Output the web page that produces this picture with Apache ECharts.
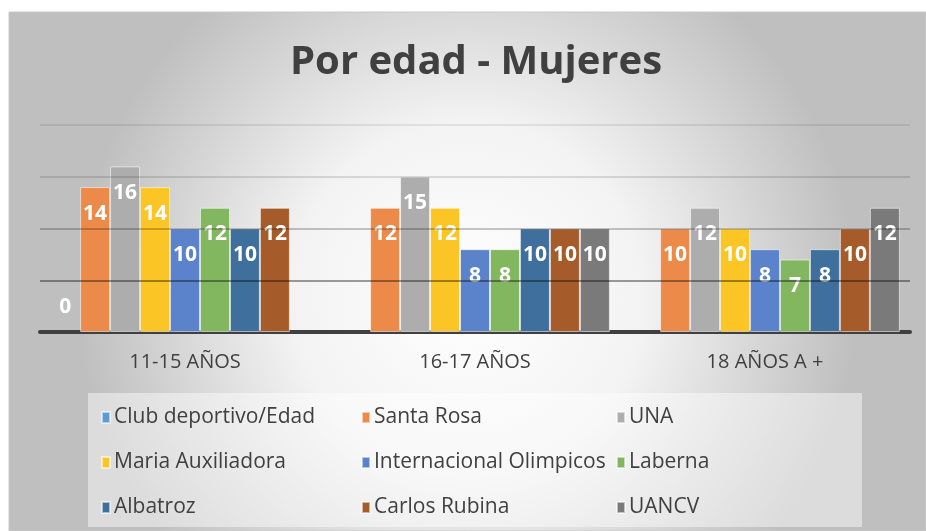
<!DOCTYPE html>
<html>
<head>
<meta charset="utf-8">
<script src="https://cdn.jsdelivr.net/npm/echarts@6/dist/echarts.min.js"></script>
<style>
  html, body { margin: 0; padding: 0; background: #fff; }
  #main { width: 926px; height: 531px; }
</style>
</head>
<body>
<div id="main"></div>
<script>
var categories = ['11-15 AÑOS', '16-17 AÑOS', '18 AÑOS A +'];
var seriesNames = ['Club deportivo/Edad', 'Santa Rosa', 'UNA', 'Maria Auxiliadora',
  'Internacional Olimpicos', 'Laberna', 'Albatroz', 'Carlos Rubina', 'UANCV'];
var clubValues = [0, null, null];
var santaRosaValues = [14, 12, 10];
var unaValues = [16, 15, 12];
var mariaValues = [14, 12, 10];
var internacionalValues = [10, 8, 8];
var labernaValues = [12, 8, 7];
var albatrozValues = [10, 10, 8];
var carlosValues = [12, 10, 10];
var uancvValues = [null, 10, 12];
var gridLevels = [5, 10, 15, 20];

var allValues = [clubValues, santaRosaValues, unaValues, mariaValues, internacionalValues,
  labernaValues, albatrozValues, carlosValues, uancvValues];
var colors = ['#5B9BD5', '#EC8A4A', '#ADADAD', '#FCC526', '#5B83CC', '#82B65F', '#3F6F9C', '#A65B2A', '#7A7A7A'];
var lineColors = ['rgba(0,0,0,0.38)', 'rgba(0,0,0,0.22)', 'rgba(0,0,0,0.12)', 'rgba(0,0,0,0.08)'];
var font = "'Open Sans', sans-serif";
var textColor = '#404040';

var chart = echarts.init(document.getElementById('main'));

var series = seriesNames.map(function (name, i) {
  var s = {
    name: name,
    type: 'bar',
    barGap: '0%',
    barCategoryGap: '7%',
    itemStyle: {
      color: colors[i],
      borderColor: 'rgba(255,255,255,0.55)',
      borderWidth: 1
    },
    label: {
      show: true,
      position: 'insideTop',
      distance: 16,
      color: '#fff',
      fontSize: 21,
      fontWeight: 'bold',
      fontFamily: font
    },
    data: allValues[i].map(function (v) {
      if (v === 0) {
        return { value: v, itemStyle: { borderWidth: 0 }, label: { position: 'top', distance: 14 } };
      }
      return v;
    })
  };
  if (i === seriesNames.length - 1) {
    // lineas de la cuadricula por encima de las barras
    s.markLine = {
      silent: true,
      symbol: 'none',
      label: { show: false },
      z: 10,
      data: gridLevels.map(function (lv, k) {
        return { yAxis: lv, lineStyle: { color: lineColors[k], width: 2, type: 'solid' } };
      })
    };
  }
  return s;
});

var option = {
  backgroundColor: '#fff',
  animation: false,
  graphic: [{
    type: 'rect',
    z: -10,
    shape: { x: 9, y: 12, width: 917, height: 519 },
    style: {
      fill: {
        type: 'radial', x: 0.5, y: 0.55, r: 0.75,
        colorStops: [
          { offset: 0, color: '#ffffff' },
          { offset: 0.45, color: '#f3f3f3' },
          { offset: 1, color: '#bfbfbf' }
        ]
      },
      stroke: '#c8c8c8',
      lineWidth: 1
    }
  }, {
    type: 'rect',
    z: -5,
    shape: { x: 88, y: 393, width: 774, height: 134 },
    style: { fill: 'rgba(255,255,255,0.45)' }
  }],
  title: {
    text: 'Por edad - Mujeres',
    left: 285,
    top: 38,
    textStyle: {
      fontSize: 40,
      fontWeight: 'bold',
      color: textColor,
      fontFamily: font
    }
  },
  grid: {
    left: 40,
    right: 16,
    top: 125,
    bottom: 199
  },
  xAxis: {
    type: 'category',
    data: categories,
    axisTick: { show: false },
    axisLine: { lineStyle: { color: '#404040', width: 4 } },
    axisLabel: {
      margin: 20,
      fontSize: 20,
      color: textColor,
      fontFamily: font
    }
  },
  yAxis: {
    type: 'value',
    min: 0,
    max: 20,
    interval: 5,
    axisLabel: { show: false },
    axisLine: { show: false },
    axisTick: { show: false },
    splitLine: { show: false }
  },
  legend: [
    { data: [seriesNames[0], seriesNames[3], seriesNames[6]], left: 96 },
    { data: [seriesNames[1], seriesNames[4], seriesNames[7]], left: 356 },
    { data: [seriesNames[2], seriesNames[5], seriesNames[8]], left: 611 }
  ].map(function (lg) {
    lg.orient = 'vertical';
    lg.top = 402;
    lg.itemGap = 24;
    lg.itemWidth = 8;
    lg.itemHeight = 11;
    lg.icon = 'rect';
    lg.textStyle = { fontSize: 21, color: textColor, fontFamily: font, padding: [0, 0, 0, -1] };
    return lg;
  }),
  series: series
};

chart.setOption(option);
</script>
</body>
</html>
